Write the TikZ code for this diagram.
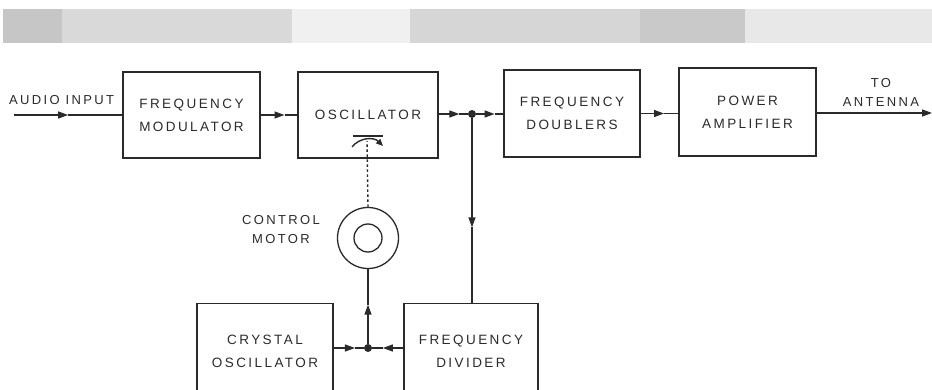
\documentclass[tikz,border=0pt]{standalone}
\usepackage{fontspec}
\setmainfont{Liberation Sans}[LetterSpace=18]
\usetikzlibrary{arrows.meta,calc}
\definecolor{ink}{HTML}{2A2A2A}
\tikzset{
  blk/.style={draw=ink, line width=1.3pt, align=center, font=\fontsize{13.5}{23}\selectfont, text=ink, inner sep=0pt},
  wire/.style={draw=ink, line width=1.3pt},
  tipline/.style={wire, -{Triangle[length=10pt,width=7pt]}},
  lbl/.style={font=\fontsize{13}{19}\selectfont, text=ink, align=center, inner sep=0pt},
  dot/.style={circle, fill=ink, inner sep=0pt, minimum size=8pt},
}
\newcommand{\midarrow}[3]{% from, to, fraction
  \draw[tipline] (#1) -- ($(#1)!#3!(#2)$);
  \draw[wire] ($(#1)!#3!(#2)$) -- (#2);
}
\begin{document}
\begin{tikzpicture}[x=1pt,y=-1pt]
\useasboundingbox (0,0) rectangle (932,390);
\clip (0,0) rectangle (932,390);
% scanned band at the top
\fill[gray!22] (3,9) rectangle (932,43);
\fill[gray!45] (3,9) rectangle (62,43);
\fill[gray!30] (62,9) rectangle (292,43);
\fill[gray!12] (292,9) rectangle (410,43);
\fill[gray!32] (410,9) rectangle (720,43);
\fill[gray!42] (640,9) rectangle (745,43);
\fill[gray!18] (745,9) rectangle (932,43);

% blocks
\node[blk, minimum width=137pt, minimum height=86pt] (fm) at (191.5,115) {FREQUENCY\\MODULATOR};
\node[blk, minimum width=140pt, minimum height=86pt] (osc) at (368,115) {OSCILLATOR};
\node[blk, minimum width=136pt, minimum height=87pt] (dbl) at (572,113.5) {FREQUENCY\\DOUBLERS};
\node[blk, minimum width=137pt, minimum height=88pt] (pa) at (747.5,112) {POWER\\AMPLIFIER};
\node[blk, minimum width=136pt, minimum height=96pt, anchor=north] (xo) at (265,303) {CRYSTAL\\OSCILLATOR};
\node[blk, minimum width=134pt, minimum height=96pt, anchor=north] (div) at (471,303) {FREQUENCY\\DIVIDER};

% motor
\node[circle, draw=ink, line width=1.3pt, minimum size=61pt, inner sep=0pt] (mot) at (368,238) {};
\node[circle, draw=ink, line width=1.3pt, minimum size=28pt, inner sep=0pt] (motin) at (mot.center) {};

% labels
\node[lbl, anchor=west] (ain) at (9,100) {AUDIO INPUT};
\node[lbl] (ant) at (881,92) {TO\\ANTENNA};
\node[lbl] (ctl) at (281,230) {CONTROL\\MOTOR};

% junctions and free ends
\node[dot] (j1) at (472,114) {};
\node[dot] (j2) at (368,348) {};
\coordinate (src) at (14,115);
\coordinate (dst) at (932,113);
\coordinate (tune) at (367,141);
\coordinate (fmin) at (fm.west);
\coordinate (oscout) at (osc.east |- j1);
\coordinate (dblin) at (j1 -| dbl.west);
\coordinate (pain) at (dbl.east -| pa.west);
\coordinate (paout) at (pa.east |- dst);
\coordinate (divin) at (j1 |- div.north);
\coordinate (xoout) at (xo.east |- j2);
\coordinate (divout) at (div.west |- j2);

% tuning symbol
\draw[wire, line width=1.2pt] (353,136) -- (383,136);
\draw[wire, line width=1.4pt, -{Triangle[length=7pt,width=6pt]}] (352,147) .. controls (360,137) and (374,137) .. (383,146);

% connectors
\midarrow{src}{fmin}{0.5}
\midarrow{fm.east}{osc.west}{0.65}
\midarrow{oscout}{j1}{0.62}
\midarrow{j1}{dblin}{0.72}
\midarrow{dbl.east}{pain}{0.62}
\draw[tipline] (paout) -- (dst);
\midarrow{j1}{divin}{0.6}
\midarrow{xoout}{j2}{0.62}
\midarrow{divout}{j2}{0.58}
\midarrow{j2}{mot.south}{0.55}
\draw[wire, line width=1.4pt, dash pattern=on 2.5pt off 2.5pt] (mot.north) -- (tune);
\end{tikzpicture}
\end{document}
